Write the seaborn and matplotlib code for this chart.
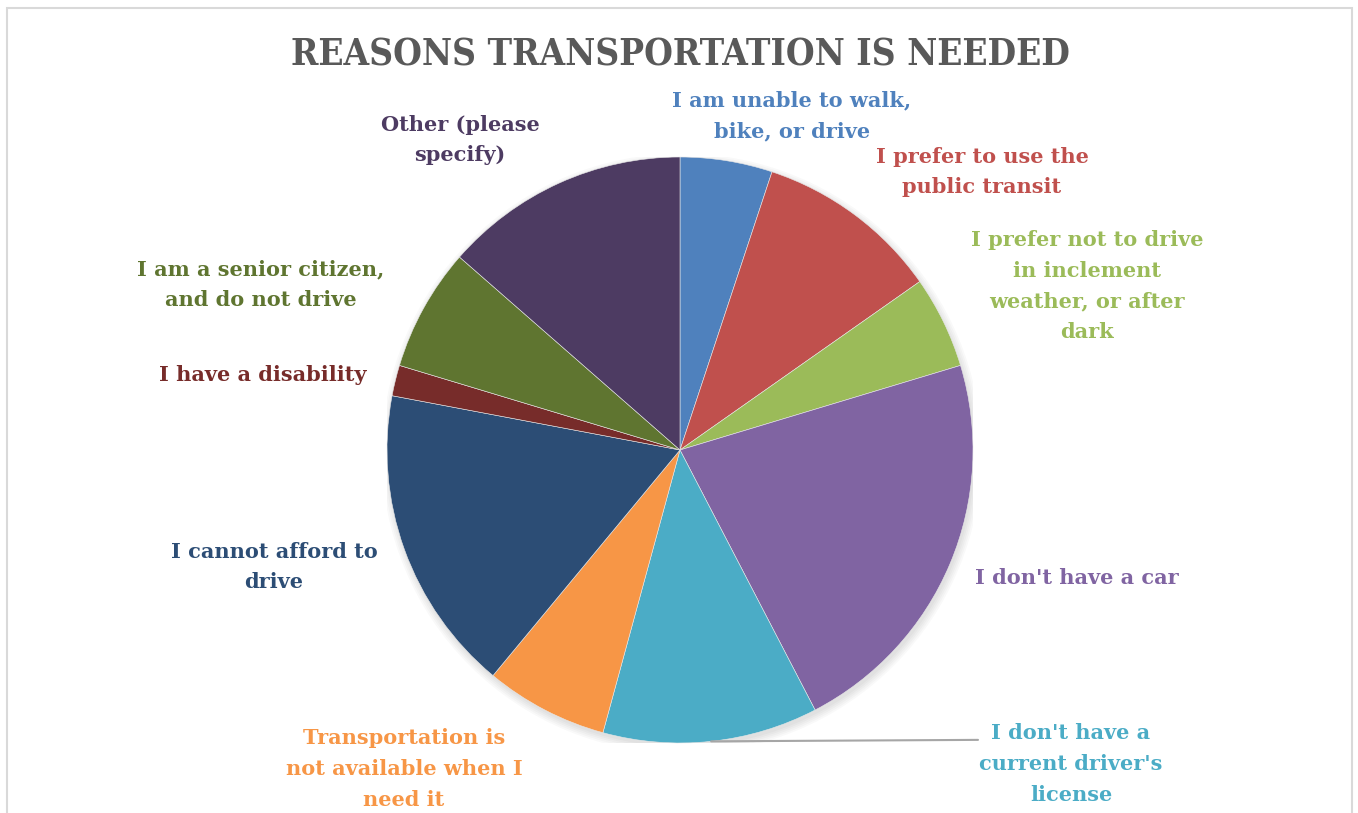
import matplotlib
matplotlib.use("Agg")
import matplotlib.pyplot as plt
from matplotlib.patches import Rectangle, Circle
import numpy as np
import seaborn as sns

# ---- data ----
categories = [
    "I am unable to walk,\nbike, or drive",
    "I prefer to use the\npublic transit",
    "I prefer not to drive\nin inclement\nweather, or after\ndark",
    "I don't have a car",
    "I don't have a\ncurrent driver's\nlicense",
    "Transportation is\nnot available when I\nneed it",
    "I cannot afford to\ndrive",
    "I have a disability",
    "I am a senior citizen,\nand do not drive",
    "Other (please\nspecify)",
]
counts = [3, 6, 3, 13, 7, 4, 10, 1, 4, 8]
title = "REASONS TRANSPORTATION IS NEEDED"

# ---- style ----
colors = sns.color_palette(["#4F81BD", "#C0504D", "#9BBB59", "#8064A2", "#4BACC6",
                            "#F79646", "#2C4D75", "#772C2A", "#5F7530", "#4D3B62"])
# label centers in pixels (layout)
label_pos = [(792, 116), (982, 172), (1087, 286), (1077, 578), (1071, 764),
             (404, 769), (274, 567), (263, 375), (261, 285), (460, 140)]

sns.set_theme(style="white")
plt.rcParams["font.family"] = ["DejaVu Serif"]

W, H = 1358, 813
fig = plt.figure(figsize=(W / 100, H / 100), dpi=100)
fig.patch.set_facecolor("white")

cx, cy, R = 680, 450, 293
ax = fig.add_axes([(cx - R) / W, (H - cy - R) / H, 2 * R / W, 2 * R / H])

# subtle shadow
for i in range(5):
    ax.add_patch(Circle((0.006, -0.012), 1.0 + 0.006 * i, color="black",
                        alpha=0.022, lw=0, zorder=0))

wedges, _ = ax.pie(counts, colors=colors, startangle=90, counterclock=False,
                   radius=1, wedgeprops=dict(linewidth=0.4, edgecolor="#e8e8e8"))
for w in wedges:
    w.set_zorder(2)
ax.set_xlim(-1, 1)
ax.set_ylim(-1, 1)
ax.set_aspect("equal")
ax.axis("off")

# labels
for lab, (px, py), col in zip(categories, label_pos, colors):
    fig.text(px / W, 1 - py / H, lab, ha="center", va="center", color=col,
             fontsize=15, fontweight="bold", linespacing=1.66)

# leader line for teal slice
w = wedges[4]
mid = np.deg2rad((w.theta1 + w.theta2) / 2)
x0, y0 = np.cos(mid), np.sin(mid)
x1 = (978 - cx) / R
ax.plot([x0, x1], [y0, y0 + 0.005], color="#A6A6A6", lw=1.5, clip_on=False, zorder=3)

fig.text(680 / W, 1 - 55 / H, title, ha="center", va="center", color="#595959",
         fontsize=26.5, fontweight="bold", fontstretch="condensed")

fig.patches.append(Rectangle((7 / W, -0.05), (1352 - 7) / W, (H - 8) / H + 0.05,
                             transform=fig.transFigure, fill=False,
                             edgecolor="#D9D9D9", lw=1.5))

fig.savefig("out.png", dpi=100)
